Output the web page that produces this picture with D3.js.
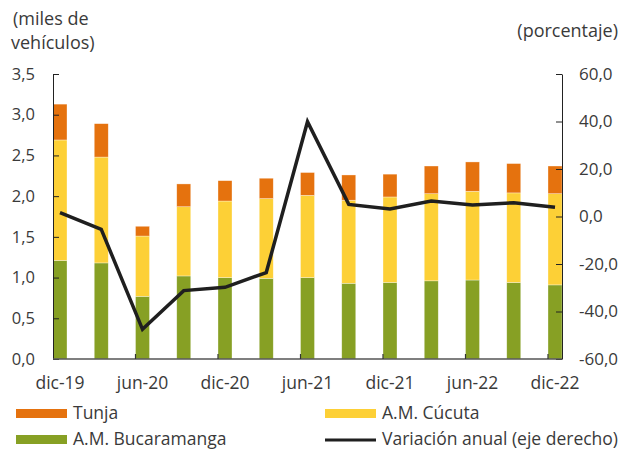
<!DOCTYPE html>
<html>
<head>
<meta charset="utf-8">
<script src="https://cdn.jsdelivr.net/npm/d3@7"></script>
<style>
  body { margin: 0; background: #fff; }
  svg text { font-family: "Open Sans", "Noto Sans", sans-serif; fill: #3a3a3a; }
</style>
</head>
<body>
<div id="chart"></div>
<script>
// trimestres
var periodos = ["dic-19", "mar-20", "jun-20", "sep-20", "dic-20", "mar-21", "jun-21",
                "sep-21", "dic-21", "mar-22", "jun-22", "sep-22", "dic-22"];
var bucaramanga = [1.21, 1.18, 0.77, 1.02, 1.00, 0.99, 1.00, 0.93, 0.94, 0.96, 0.97, 0.94, 0.91];
var cucuta      = [1.48, 1.30, 0.74, 0.85, 0.94, 0.98, 1.01, 1.02, 1.05, 1.07, 1.09, 1.10, 1.12];
var tunja       = [0.44, 0.41, 0.12, 0.28, 0.25, 0.25, 0.28, 0.31, 0.28, 0.34, 0.36, 0.36, 0.34];
var variacion   = [1.6, -5.4, -47.5, -31.2, -29.8, -23.6, 39.9, 5.1, 3.2, 6.5, 4.8, 5.8, 3.9];
var etiquetasX  = ["dic-19", "jun-20", "dic-20", "jun-21", "dic-21", "jun-22", "dic-22"];
var ticksIzq = [0, 0.5, 1, 1.5, 2, 2.5, 3, 3.5];
var ticksDer = [-60, -40, -20, 0, 20, 40, 60];

var width = 622, height = 450;
var mLeft = 53, mRight = 562, mTop = 74, mBottom = 359;
var bw = 14;
var colores = { tunja: "#E5720E", cucuta: "#FDD036", bucaramanga: "#87A024", linea: "#1f1f1f" };

var svg = d3.select("#chart").append("svg")
    .attr("width", width)
    .attr("height", height);

var x = d3.scalePoint().domain(periodos).range([mLeft + bw / 2, mRight - bw / 2]);
var yL = d3.scaleLinear().domain([0, 3.5]).range([mBottom, mTop]);
var yR = d3.scaleLinear().domain([-60, 60]).range([mBottom, mTop]);
var coma = function (d) { return d3.format(".1f")(d).replace(".", ",").replace("−", "-"); };

var filas = periodos.map(function (p, i) {
    return { periodo: p, bucaramanga: bucaramanga[i], cucuta: cucuta[i], tunja: tunja[i] };
});
var series = d3.stack().keys(["bucaramanga", "cucuta", "tunja"])(filas);

svg.append("g").selectAll("g")
    .data(series)
    .enter().append("g")
    .attr("fill", function (s) { return colores[s.key]; })
    .selectAll("rect")
    .data(function (s) { return s; })
    .enter().append("rect")
    .attr("x", function (d) { return x(d.data.periodo) - bw / 2; })
    .attr("width", bw)
    .attr("y", function (d) { return yL(d[1]); })
    .attr("height", function (d) { return yL(d[0]) - yL(d[1]); })
    .attr("stroke", "rgba(255,255,255,0.55)")
    .attr("stroke-width", 0.6);

// linea de variacion anual
var linea = d3.line()
    .x(function (d, i) { return x(periodos[i]); })
    .y(function (d) { return yR(d); });

svg.append("path")
    .datum(variacion)
    .attr("d", linea)
    .attr("fill", "none")
    .attr("stroke", colores.linea)
    .attr("stroke-width", 3.5)
    .attr("stroke-linejoin", "miter");

// ejes
var ejeIzq = svg.append("g")
    .attr("transform", "translate(" + mLeft + ",0)")
    .call(d3.axisLeft(yL).tickValues(ticksIzq).tickFormat(coma).tickSizeInner(-6).tickSizeOuter(0).tickPadding(18));
ejeIzq.select(".domain").attr("stroke", "#222");
ejeIzq.selectAll(".tick line").attr("stroke", "#222");
ejeIzq.selectAll("text").attr("font-size", 16.5).attr("fill", "#3a3a3a");

var ejeDer = svg.append("g")
    .attr("transform", "translate(" + mRight + ",0)")
    .call(d3.axisRight(yR).tickValues(ticksDer).tickFormat(coma).tickSizeInner(-6).tickSizeOuter(0).tickPadding(17));
ejeDer.select(".domain").attr("stroke", "#222");
ejeDer.selectAll(".tick line").attr("stroke", "#222");
ejeDer.selectAll("text").attr("font-size", 17).attr("fill", "#3a3a3a");

// eje x
svg.append("line")
    .attr("x1", mLeft).attr("x2", mRight)
    .attr("y1", mBottom).attr("y2", mBottom)
    .attr("stroke", "#555").attr("stroke-width", 1.5);

svg.append("g").selectAll("line")
    .data(etiquetasX.slice(1))
    .enter().append("line")
    .attr("x1", function (d) { return x(d) - bw / 2; })
    .attr("x2", function (d) { return x(d) - bw / 2; })
    .attr("y1", mBottom).attr("y2", mBottom - 5)
    .attr("stroke", "#333").attr("stroke-width", 1.2);

svg.append("g").selectAll("text")
    .data(etiquetasX)
    .enter().append("text")
    .attr("x", function (d) { return x(d); })
    .attr("y", mBottom + 30)
    .attr("text-anchor", "middle")
    .attr("font-size", 17.5)
    .text(function (d) { return d; });

// titulos de ejes
svg.append("text").attr("x", 13).attr("y", 25).attr("font-size", 18).text("(miles de");
svg.append("text").attr("x", 11).attr("y", 49).attr("font-size", 18).text("vehículos)");
svg.append("text").attr("x", 618).attr("y", 37).attr("text-anchor", "end").attr("font-size", 18).text("(porcentaje)");

// leyenda
var leyenda = [
    { nombre: "Tunja", color: colores.tunja, tipo: "rect", x: 16, y: 413 },
    { nombre: "A.M. Cúcuta", color: colores.cucuta, tipo: "rect", x: 325, y: 413 },
    { nombre: "A.M. Bucaramanga", color: colores.bucaramanga, tipo: "rect", x: 16, y: 439 },
    { nombre: "Variación anual (eje derecho)", color: colores.linea, tipo: "line", x: 325, y: 439 }
];
var li = svg.append("g").selectAll("g")
    .data(leyenda)
    .enter().append("g")
    .attr("transform", function (d) { return "translate(" + d.x + "," + d.y + ")"; });
li.filter(function (d) { return d.tipo === "rect"; })
    .append("rect")
    .attr("x", 0).attr("y", -4).attr("width", 51).attr("height", 9)
    .attr("fill", function (d) { return d.color; });
li.filter(function (d) { return d.tipo === "line"; })
    .append("line")
    .attr("x1", 0).attr("x2", 51).attr("y1", 1).attr("y2", 1)
    .attr("stroke", function (d) { return d.color; }).attr("stroke-width", 3);
li.append("text")
    .attr("x", 57).attr("y", 6)
    .attr("font-size", 17.5)
    .text(function (d) { return d.nombre; });
</script>
</body>
</html>
